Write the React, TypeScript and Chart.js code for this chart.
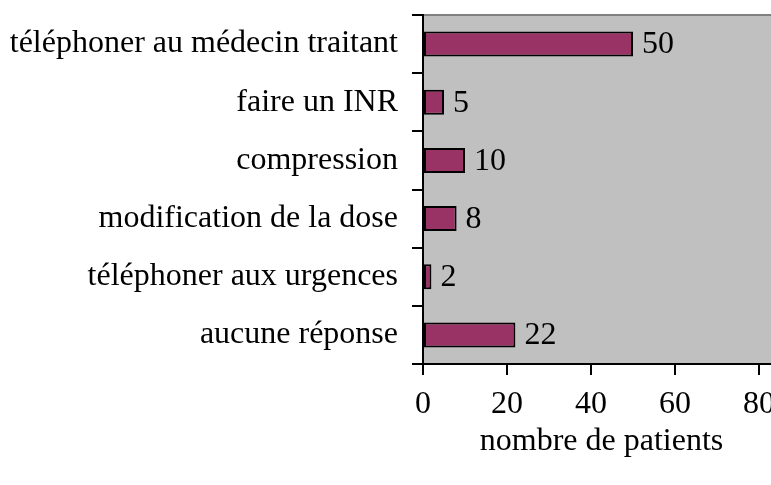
import React, { useEffect, useRef } from "react";
import { Chart, registerables } from "chart.js";

Chart.register(...registerables);

const categories = [
  "téléphoner au médecin traitant",
  "faire un INR",
  "compression",
  "modification de la dose",
  "téléphoner aux urgences",
  "aucune réponse",
];
const patients = [50, 5, 10, 8, 2, 22];
const xTickValues = [0, 20, 40, 60, 80];
const xTitle = "nombre de patients";

const FONT = "'Liberation Serif', 'Times New Roman', serif";

const plotBackground = {
  id: "plotBackground",
  beforeDraw(chart: any) {
    const { ctx, chartArea } = chart;
    if (!chartArea) return;
    ctx.save();
    ctx.fillStyle = "#C0C0C0";
    ctx.fillRect(chartArea.left, chartArea.top, chartArea.right - chartArea.left, chartArea.bottom - chartArea.top);
    ctx.strokeStyle = "#808080";
    ctx.lineWidth = 2;
    ctx.beginPath();
    ctx.moveTo(chartArea.left, chartArea.top);
    ctx.lineTo(chartArea.right, chartArea.top);
    ctx.stroke();
    ctx.restore();
  },
};

const valueLabels = {
  id: "valueLabels",
  afterDatasetsDraw(chart: any) {
    const { ctx } = chart;
    const meta = chart.getDatasetMeta(0);
    const data = chart.data.datasets[0].data;
    ctx.save();
    ctx.font = `32px ${FONT}`;
    ctx.fillStyle = "#000000";
    ctx.textAlign = "left";
    ctx.textBaseline = "middle";
    meta.data.forEach((el: any, i: number) => {
      ctx.fillText(String(data[i]), el.x + 9, el.y + 1);
    });
    ctx.restore();
  },
};

export default function App() {
  const canvasRef = useRef<HTMLCanvasElement | null>(null);

  useEffect(() => {
    const canvas = canvasRef.current;
    if (!canvas) return;
    const chart = new Chart(canvas, {
      type: "bar",
      data: {
        labels: categories,
        datasets: [
          {
            data: patients,
            backgroundColor: "#993366",
            borderColor: "#000000",
            borderWidth: 2,
            borderSkipped: false,
            barPercentage: 0.43,
            categoryPercentage: 1,
          },
        ],
      },
      options: {
        indexAxis: "y",
        animation: false,
        responsive: false,
        devicePixelRatio: 1,
        layout: { padding: { top: 15, right: 40, left: 0, bottom: 0 } },
        plugins: {
          legend: { display: false },
          tooltip: { enabled: false },
        },
        scales: {
          x: {
            type: "linear",
            min: 0,
            max: 85,
            afterBuildTicks: (scale: any) => {
              scale.ticks = xTickValues.map((v) => ({ value: v }));
            },
            afterFit: (scale: any) => {
              scale.height = 121;
            },
            ticks: {
              color: "#000000",
              font: { family: FONT, size: 32 },
              padding: 10,
              maxRotation: 0,
              autoSkip: false,
            },
            grid: {
              drawOnChartArea: false,
              drawTicks: true,
              tickLength: 11,
              color: "#000000",
              lineWidth: 2,
            },
            border: { color: "#000000", width: 2 },
            title: {
              display: true,
              text: xTitle,
              color: "#000000",
              font: { family: FONT, size: 32 },
              padding: { top: 0, bottom: 24 },
            },
          },
          y: {
            type: "category",
            afterFit: (scale: any) => {
              scale.width = 423;
              scale.paddingTop = 0;
              scale.paddingBottom = 0;
            },
            ticks: {
              color: "#000000",
              font: { family: FONT, size: 32 },
              padding: 14,
              autoSkip: false,
            },
            grid: {
              offset: true,
              drawOnChartArea: false,
              drawTicks: true,
              tickLength: 11,
              color: "#000000",
              lineWidth: 2,
            },
            border: { color: "#000000", width: 2 },
          },
        },
      },
      plugins: [plotBackground, valueLabels],
    } as any);
    return () => chart.destroy();
  }, []);

  return (
    <div
      style={{
        position: "fixed",
        left: 0,
        top: 0,
        width: 771,
        height: 485,
        overflow: "hidden",
        background: "#ffffff",
      }}
    >
      <canvas ref={canvasRef} width={820} height={485} style={{ display: "block", width: 820, height: 485 }} />
    </div>
  );
}
